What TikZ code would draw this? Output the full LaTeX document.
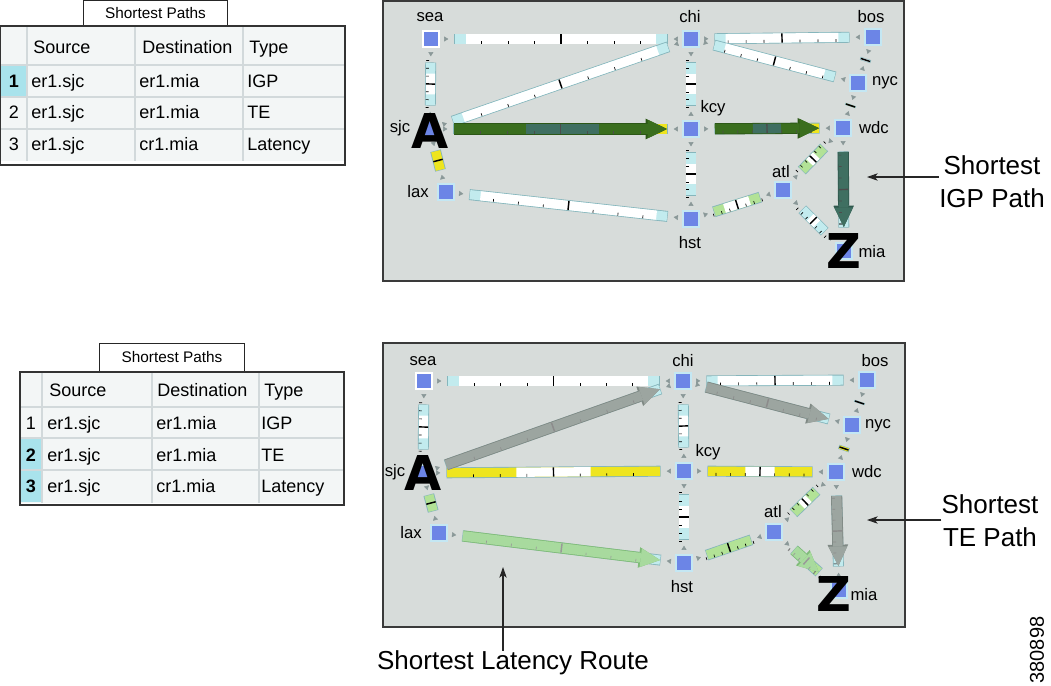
\documentclass[tikz,border=0pt]{standalone}
\usepackage{fontspec}
\setmainfont{Liberation Sans}
\newfontfamily\markfont{DejaVu Sans}
\usetikzlibrary{arrows.meta,decorations.markings}
\definecolor{panelbg}{HTML}{D7DCDA}
\definecolor{paneledge}{HTML}{3A3A3A}
\definecolor{nodeblue}{HTML}{6C85E6}
\definecolor{nodeglow}{HTML}{C4E7F3}
\definecolor{lkcyan}{HTML}{C2EBEE}
\definecolor{lkedge}{HTML}{86B6BC}
\definecolor{tipgray}{HTML}{8A9898}
\definecolor{igpgreen}{HTML}{3A6E1E}
\definecolor{igpdark}{HTML}{2C5716}
\definecolor{igpteal}{HTML}{3F6F61}
\definecolor{igptealdark}{HTML}{2F574C}
\definecolor{tegray}{HTML}{9CA5A0}
\definecolor{teedge}{HTML}{7F8984}
\definecolor{latgreen}{HTML}{A8DA9E}
\definecolor{latedge}{HTML}{7FBB78}
\definecolor{utyellow}{HTML}{EEE51F}
\definecolor{utgreen}{HTML}{B2E296}
\definecolor{cellline}{HTML}{D2D9DB}
\definecolor{cellfill}{HTML}{F3F6F6}
\definecolor{selcell}{HTML}{A9E3EC}

% link bar between two routers: [middle inset]{from}{to}{end colour}{middle colour}
\newcommand{\linkbar}[5][19pt]{%
  \draw[bar edge] (#2) -- (#3);
  \draw[bar body=#4] (#2) -- (#3);
  \draw[bar body=#5, shorten <=#1, shorten >=#1] (#2) -- (#3);
  \path[bar ticks] (#2) -- (#3);
  \path[end tips] (#2) -- (#3);
}
% short link: {from}{to}{colour}
\newcommand{\linkshort}[3]{%
  \draw[bar edge, shorten <=9.6pt, shorten >=9.6pt] (#1) -- (#2);
  \draw[bar body=#3, shorten <=10pt, shorten >=10pt] (#1) -- (#2);
  \path[mid tick] (#1) -- (#2);
  \path[end tips] (#1) -- (#2);
}
% route arrow laid over a link: {from}{to}{fill}{edge}
\newcommand{\routearrow}[4]{%
  \draw[route=#4, line width=8.4pt, -{Triangle[length=16pt,width=15.5pt,line width=0pt]}] (#1) -- (#2);
  \draw[route=#3, line width=7.2pt, -{Triangle[length=14.6pt,width=14pt,line width=0pt]}] (#1) -- (#2);
}

\begin{document}
\begin{tikzpicture}[x=0.75pt, y=-0.75pt,
  router/.style={rectangle, fill=nodeblue, draw=nodeglow, line width=2pt, minimum size=12pt, inner sep=0pt},
  lbl/.style={font=\fontsize{12.5}{14}\selectfont, inner sep=0pt},
  bigmark/.style={font=\markfont\bfseries\fontsize{36}{36}\selectfont, inner sep=0pt},
  panel/.style={fill=panelbg, draw=paneledge, line width=1.1pt},
  tabhead/.style={draw=black!85, fill=white, line width=0.8pt, minimum width=108.5pt, minimum height=19.5pt, inner sep=0pt, font=\fontsize{11.5}{13}\selectfont},
  cell/.style={anchor=west, inner sep=0pt, text height=10pt, text depth=3pt, font=\fontsize{13.5}{15}\selectfont},
  tblframe/.style={draw=black!80, line width=1.1pt},
  tblrule/.style={draw=cellline, line width=0.8pt},
  callout/.style={font=\fontsize{19.5}{24.75}\selectfont, align=center, inner sep=0pt},
  pointer/.style={draw=black!85, line width=0.8pt, -{Stealth[length=8pt,width=5.5pt,inset=2pt]}},
  bar edge/.style={draw=lkedge, line width=8.2pt, shorten <=10.6pt, shorten >=10.6pt},
  bar body/.style={draw=#1, line width=6.9pt, shorten <=11pt, shorten >=11pt},
  route/.style={draw=#1, shorten <=11pt, shorten >=11pt},
  tick/.style={draw=black, line width=0.5pt},
  bar ticks/.style={decorate, decoration={markings,
    mark=at position 0.17 with {\draw[tick] (0,-3.45pt) -- (0,-1.3pt);},
    mark=at position 0.28 with {\draw[tick] (0,-3.45pt) -- (0,-1.3pt);},
    mark=at position 0.39 with {\draw[tick] (0,-3.45pt) -- (0,-1.3pt);},
    mark=at position 0.61 with {\draw[tick] (0,-3.45pt) -- (0,-1.3pt);},
    mark=at position 0.72 with {\draw[tick] (0,-3.45pt) -- (0,-1.3pt);},
    mark=at position 0.83 with {\draw[tick] (0,-3.45pt) -- (0,-1.3pt);},
    mark=at position 0.5 with {\draw[tick, line width=1.1pt] (0,-3.45pt) -- (0,3.45pt);}}},
  route ticks/.style={bar ticks, tick/.append style={draw=#1}},
  mid tick/.style={decorate, decoration={markings,
    mark=at position 0.5 with {\draw[tick, line width=1.1pt] (0,-3.6pt) -- (0,3.6pt);}}},
  end tips/.style={decorate, decoration={markings,
    mark=at position 6pt with {\arrow[color=tipgray]{Triangle[length=3.2pt,width=3.8pt]}},
    mark=at position -6pt with {\arrowreversed[color=tipgray]{Triangle[length=3.2pt,width=3.8pt]}}}},
]
\useasboundingbox (0,0) rectangle (1051,686);

% ---------------- top table ----------------
\node[tabhead] (tabtop) at (155.5,13.5) {Shortest Paths};
\fill[cellfill] (1,27) rectangle (344,161);
\fill[selcell] (1,66) rectangle (27,97);
\foreach \yy in {65,97,129} \draw[tblrule] (1,\yy) -- (344,\yy);
\foreach \xx in {27,135,243} \draw[tblrule] (\xx,27) -- (\xx,161);
\draw[tblframe] (0,26) rectangle (345,165);
\node[cell] (top-hsrc) at (33,49) {Source};
\node[cell] (top-hdst) at (142,49) {Destination};
\node[cell] (top-htyp) at (249,49) {Type};
\foreach \yy/\nr/\src/\dst/\typ [count=\r] in {83/{\bfseries 1}/er1.sjc/er1.mia/IGP, 114/2/er1.sjc/er1.mia/TE, 146/3/er1.sjc/cr1.mia/Latency}{
  \node[cell, anchor=center] (top-nr-\r) at (14,\yy) {\nr};
  \node[cell] (top-src-\r) at (31,\yy) {\src};
  \node[cell] (top-dst-\r) at (139,\yy) {\dst};
  \node[cell] (top-typ-\r) at (247,\yy) {\typ};
}

% ---------------- bottom table ----------------
\node[tabhead, minimum height=21pt] (tabbot) at (172,357.5) {Shortest Paths};
\fill[cellfill] (21,373) rectangle (343,503);
\fill[selcell] (21,439) rectangle (42,470);
\fill[selcell] (21,471) rectangle (42,502);
\foreach \yy in {407,438,470} \draw[tblrule] (21,\yy) -- (343,\yy);
\foreach \xx in {42,152,259} \draw[tblrule] (\xx,373) -- (\xx,503);
\draw[tblframe] (20,372) rectangle (344,505);
\node[cell] (bot-hsrc) at (49,392) {Source};
\node[cell] (bot-hdst) at (157,392) {Destination};
\node[cell] (bot-htyp) at (264,392) {Type};
\foreach \yy/\nr/\src/\dst/\typ [count=\r] in {425/1/er1.sjc/er1.mia/IGP, 457/{\bfseries 2}/er1.sjc/er1.mia/TE, 488/{\bfseries 3}/er1.sjc/cr1.mia/Latency}{
  \node[cell, anchor=center] (bot-nr-\r) at (31,\yy) {\nr};
  \node[cell] (bot-src-\r) at (47,\yy) {\src};
  \node[cell] (bot-dst-\r) at (156,\yy) {\dst};
  \node[cell] (bot-typ-\r) at (261,\yy) {\typ};
}

% ---------------- top panel: IGP path ----------------
\draw[panel] (383,1) rectangle (904,281);
\node[router, draw=white] (sea1) at (431,39) {};
\node[router] (chi1) at (691,39) {};
\node[router] (bos1) at (873,37) {};
\node[router] (sjc1) at (430,129) {};
\node[router] (kcy1) at (691,129) {};
\node[router] (nyc1) at (858,83) {};
\node[router] (wdc1) at (843,128) {};
\node[router] (lax1) at (446,192) {};
\node[router] (hst1) at (691,219) {};
\node[router] (atl1) at (783,190) {};
\node[router] (mia1) at (844,251) {};

\node[lbl] (sea1-l) at (430,17) {sea};
\node[lbl] (chi1-l) at (690,17) {chi};
\node[lbl] (bos1-l) at (871,17) {bos};
\node[lbl] (sjc1-l) at (400,128) {sjc};
\node[lbl] (kcy1-l) at (713,108) {kcy};
\node[lbl] (nyc1-l) at (885,83) {nyc};
\node[lbl] (wdc1-l) at (874,128) {wdc};
\node[lbl] (lax1-l) at (418,192) {lax};
\node[lbl] (hst1-l) at (690,243) {hst};
\node[lbl] (atl1-l) at (781,172) {atl};
\node[lbl] (mia1-l) at (872,252) {mia};

\linkbar{sea1}{chi1}{lkcyan}{white}
\linkbar{sea1}{sjc1}{lkcyan}{white}
\linkbar{sjc1}{chi1}{lkcyan}{white}
\linkbar[64pt]{sjc1}{kcy1}{utyellow}{white}
\linkbar{chi1}{kcy1}{lkcyan}{white}
\linkbar{kcy1}{hst1}{lkcyan}{white}
\linkshort{sjc1}{lax1}{utyellow}
\linkbar{lax1}{hst1}{lkcyan}{white}
\linkbar{hst1}{atl1}{utgreen}{white}
\linkbar{chi1}{bos1}{lkcyan}{white}
\linkbar{chi1}{nyc1}{lkcyan}{white}
\linkshort{bos1}{nyc1}{white}
\linkshort{nyc1}{wdc1}{utyellow}
\linkbar[39.5pt]{kcy1}{wdc1}{utyellow}{white}
\linkbar{wdc1}{atl1}{utgreen}{white}
\linkbar{atl1}{mia1}{lkcyan}{white}
\linkbar{wdc1}{mia1}{lkcyan}{white}

% IGP route sjc -> kcy -> wdc -> mia
\routearrow{sjc1}{kcy1}{igpgreen}{igpdark}
\draw[route=igpteal, line width=7.2pt, shorten <=65pt, shorten >=62pt] (sjc1) -- (kcy1);
\routearrow{kcy1}{wdc1}{igpgreen}{igpdark}
\draw[route=igpteal, line width=7.2pt, shorten <=39.5pt, shorten >=39.5pt] (kcy1) -- (wdc1);
\routearrow{wdc1}{mia1}{igpteal}{igptealdark}
\path[route ticks=black!70] (sjc1) -- (kcy1);
\path[route ticks=black!70] (kcy1) -- (wdc1);
\path[route ticks=black!70] (wdc1) -- (mia1);

\node[bigmark] (markA1) at (430.5,130.5) {A};
\node[bigmark] (markZ1) at (843.5,250.5) {Z};

% ---------------- bottom panel: TE path and latency route ----------------
\draw[panel] (383,343) rectangle (905,627);
\node[router, draw=white] (sea2) at (424,381) {};
\node[router] (chi2) at (683,381) {};
\node[router] (bos2) at (867,380) {};
\node[router] (sjc2) at (423,473) {};
\node[router] (kcy2) at (684,471) {};
\node[router] (nyc2) at (852,425) {};
\node[router] (wdc2) at (836,472) {};
\node[router] (lax2) at (439,533) {};
\node[router] (hst2) at (684,563) {};
\node[router] (atl2) at (774,532) {};
\node[router] (mia2) at (839,590) {};

\node[lbl] (sea2-l) at (423,361) {sea};
\node[lbl] (chi2-l) at (683,361) {chi};
\node[lbl] (bos2-l) at (875,361) {bos};
\node[lbl] (sjc2-l) at (395,472) {sjc};
\node[lbl] (kcy2-l) at (708,452) {kcy};
\node[lbl] (nyc2-l) at (878,426) {nyc};
\node[lbl] (wdc2-l) at (867,472) {wdc};
\node[lbl] (lax2-l) at (411,533) {lax};
\node[lbl] (hst2-l) at (682,587) {hst};
\node[lbl] (atl2-l) at (773,512) {atl};
\node[lbl] (mia2-l) at (864,595) {mia};

\linkbar{sea2}{chi2}{lkcyan}{white}
\linkbar{sea2}{sjc2}{lkcyan}{white}
\linkbar{sjc2}{chi2}{lkcyan}{white}
\linkbar[63pt]{sjc2}{kcy2}{utyellow}{white}
\linkbar{chi2}{kcy2}{lkcyan}{white}
\linkbar{kcy2}{hst2}{lkcyan}{white}
\linkshort{sjc2}{lax2}{utgreen}
\linkbar{lax2}{hst2}{lkcyan}{white}
\linkbar{hst2}{atl2}{utgreen}{utgreen}
\linkbar{chi2}{bos2}{lkcyan}{white}
\linkbar{chi2}{nyc2}{lkcyan}{white}
\linkshort{bos2}{nyc2}{white}
\linkshort{nyc2}{wdc2}{utyellow}
\linkbar[39pt]{kcy2}{wdc2}{utyellow}{white}
\linkbar{wdc2}{atl2}{utgreen}{white}
\linkbar{atl2}{mia2}{utgreen}{white}
\linkbar{wdc2}{mia2}{lkcyan}{white}

% TE route sjc -> chi -> nyc, wdc -> mia
\routearrow{sjc2}{chi2}{tegray}{teedge}
\routearrow{chi2}{nyc2}{tegray}{teedge}
\routearrow{wdc2}{mia2}{tegray}{teedge}
% latency route lax -> hst, atl -> mia
\routearrow{lax2}{hst2}{latgreen}{latedge}
\routearrow{atl2}{mia2}{latgreen}{latedge}
\path[route ticks=black!45] (sjc2) -- (chi2);
\path[route ticks=black!45] (chi2) -- (nyc2);
\path[route ticks=black!45] (wdc2) -- (mia2);
\path[route ticks=black!40] (lax2) -- (hst2);
\path[route ticks=black!40] (atl2) -- (mia2);

\node[bigmark] (markA2) at (423.5,472.5) {A};
\node[bigmark] (markZ2) at (834,594) {Z};

% ---------------- callouts ----------------
\node[callout] (igplbl) at (992,182) {Shortest\\IGP Path};
\coordinate (igptgt) at (867,177);
\draw[pointer] (igplbl.west |- igptgt) -- (igptgt);

\node[callout] (telbl) at (990,521) {Shortest\\TE Path};
\coordinate (tetgt) at (867,520);
\draw[pointer] (telbl.west |- tetgt) -- (tetgt);

\node[callout] (latlbl) at (513,663) {Shortest Latency Route};
\coordinate (lattgt) at (503,567);
\draw[pointer] (latlbl.north -| lattgt) -- (lattgt);

\node[font=\fontsize{15}{15}\selectfont, rotate=90, inner sep=0pt] (figid) at (1037,650) {380898};
\end{tikzpicture}
\end{document}
